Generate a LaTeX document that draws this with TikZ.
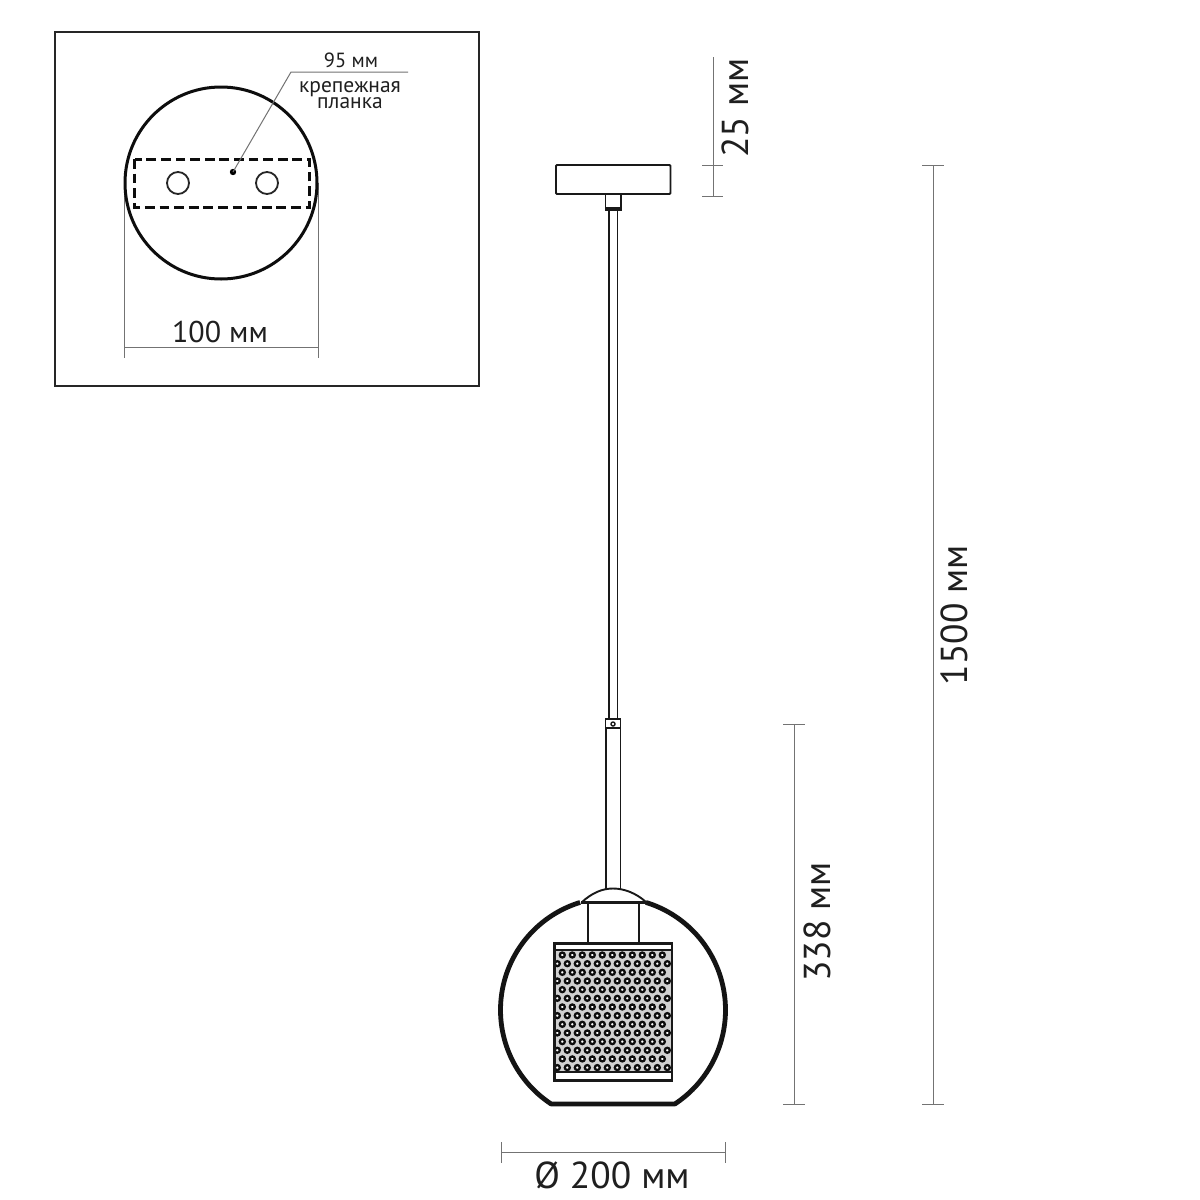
\documentclass[tikz,border=0pt]{standalone}
\usepackage{fontspec}
\setmainfont{PT Sans}
\tikzset{
  dimline/.style={draw=black!55,line width=1pt},
  part/.style={draw=black!90,line width=1.9pt},
  heavy/.style={draw=black!90,line width=2.6pt},
  lbl/.style={inner sep=0pt,text=black!88},
  big/.style={lbl,font=\fontsize{37.5}{37.5}\selectfont},
  mid/.style={lbl,font=\fontsize{30}{30}\selectfont},
  small/.style={lbl,font=\fontsize{20.5}{20.5}\selectfont},
  tight/.style={lbl,font=\fontsize{21.5}{21.5}\selectfont},
  ring/.style={draw=black!95,line width=2.3pt}
}
\begin{document}
\begin{tikzpicture}[x=1pt,y=-1pt]
\useasboundingbox (0,0) rectangle (1200,1200);
\fill[white] (0,0) rectangle (1200,1200);
% inset
\draw[draw=black!85,line width=2.4pt] (55,32) rectangle (479,386);
\draw[dimline] (124,183) -- (124,358);
\draw[dimline] (318,183) -- (318,358);
\coordinate (dL) at (124,347);
\coordinate (dR) at (318,347);
\draw[dimline] (dL) -- (dR);
\draw[draw=black!95,line width=3pt] (221,183) circle (96);
\draw[draw=black!95,line width=3pt,dash pattern=on 9.8pt off 4.8pt] (134.5,159) rectangle (309,207);
\draw[draw=black!85,line width=1.8pt] (178,183) circle (11);
\draw[draw=black!85,line width=1.8pt] (267,183) circle (11);
\fill[black] (233,172) circle (3.2);
\coordinate (lbend) at (291,72);
\coordinate (lend) at (408,72);
\draw[dimline] (233,172) -- (lbend) -- (lend);
\node[small] (n95) at (351,60) {95 мм};
\node[tight,anchor=base] (nk) at (350,92) {крепежная};
\node[tight,anchor=base] (np) at (350,108.5) {планка};
\node[mid] (n100) at (220,332) {100 мм};
% canopy
\draw[part,rounded corners=1pt] (556,165) rectangle (670.5,194);
\draw[part] (605.5,194) -- (605.5,208) -- (621,208) -- (621,194);
\fill[black!90] (605,207) rectangle (621.5,211);
\draw[part] (609,211) -- (609,719);
\draw[part] (617.5,211) -- (617.5,719);
% coupling
\draw[part] (605.5,719) rectangle (620.5,728);
\draw[part,line width=1.4pt] (613,724) circle (2);
\draw[part] (606,728) -- (606,890);
\draw[part] (620.5,728) -- (620.5,890);
% dome and glass
\draw[part] (582,902) .. controls (592,893) and (602,888.5) .. (613,888.5)
  .. controls (624,888.5) and (636,893) .. (646,902);
\draw[draw=black!92,line width=4.8pt,line join=round]
  plot[domain=253:123.4,samples=90] ({613+112.5*cos(\x)},{1010+112.5*sin(\x)})
  -- plot[domain=56.6:-73,samples=90] ({613+112.5*cos(\x)},{1010+112.5*sin(\x)});
\draw[heavy] (581,902.5) -- (647,902.5);
% neck
\draw[heavy,line width=2.2pt] (588,902) -- (588,943);
\draw[heavy,line width=2.2pt] (639,902) -- (639,943);
% cage
\begin{scope}
\clip (555,950) rectangle (672,1072);
\fill[black!18] (555,950) rectangle (672,1072);
\foreach \r in {0,2,...,12}{
  \foreach \c in {0,...,10}{
    \draw[ring,fill=white] ({562.3+10*\c},{955+8.66*\r}) circle (2.5);
  }
}
\foreach \r in {1,3,...,13}{
  \foreach \c in {0,...,11}{
    \draw[ring,fill=white] ({557.3+10*\c},{955+8.66*\r}) circle (2.5);
  }
}
\end{scope}
\draw[heavy,line width=2.2pt] (554.5,943.5) rectangle (672,1080.5);
\draw[heavy,line width=2.2pt] (554.5,950) -- (672,950);
\draw[heavy,line width=2.2pt] (554.5,1072) -- (672,1072);
% dimensions
\draw[dimline] (713,57) -- (713,196);
\draw[dimline] (702,165) -- (723,165);
\draw[dimline] (702,196) -- (723,196);
\node[big,rotate=90] (n25) at (735,108) {25 мм};
\draw[dimline] (794,724) -- (794,1104);
\draw[dimline] (783,724) -- (805,724);
\draw[dimline] (783,1104) -- (805,1104);
\node[big,rotate=90] (n338) at (817,922) {338 мм};
\draw[dimline] (933,165) -- (933,1104);
\draw[dimline] (922,165) -- (944,165);
\draw[dimline] (922,1104) -- (944,1104);
\node[big,rotate=90] (n1500) at (954,615) {1500 мм};
\draw[dimline] (501,1152) -- (725,1152);
\draw[dimline] (501,1142) -- (501,1163);
\draw[dimline] (725,1142) -- (725,1163);
\node[big] (n200) at (612,1175) {Ø 200 мм};
\end{tikzpicture}
\end{document}
